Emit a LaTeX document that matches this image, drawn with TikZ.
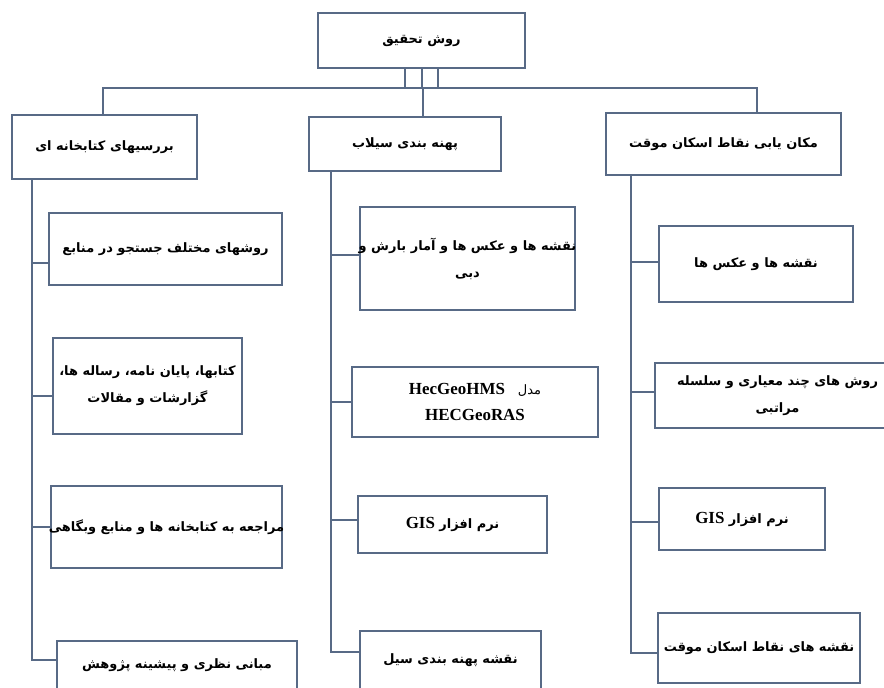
\documentclass[tikz,border=0pt]{standalone}
\usepackage{fontspec}
\TeXXeTstate=1
\newfontfamily\farsi[Script=Arabic]{DejaVu Sans}
\newfontfamily\latf{Liberation Serif}
\newcommand\fa[1]{{\farsi\bfseries\beginR #1\endR}}
\newcommand\lt[1]{\beginL{\latf\bfseries\fontsize{17}{26}\selectfont #1}\endL{}}
\definecolor{edge}{RGB}{88,106,134}
\tikzset{
  box/.style={draw=edge, line width=1.1bp, fill=white, inner sep=0pt, align=center, font=\fontsize{13}{27}\selectfont},
  link/.style={draw=edge, line width=1.1bp}
}
\begin{document}
\begin{tikzpicture}[x=1bp,y=-1bp]
\clip (0,0) rectangle (884,688);
\fill[white] (0,0) rectangle (884,688);
% top level
\node[box, minimum width=207bp, minimum height=55bp] (top) at (421.5,40.5) {\fa{روش تحقیق}};
\node[box, minimum width=185bp, minimum height=64bp] (L) at (104.5,147) {\fa{بررسیهای کتابخانه ای}};
\node[box, minimum width=192bp, minimum height=54bp] (M) at (405,144) {\fa{پهنه بندی سیلاب}};
\node[box, minimum width=235bp, minimum height=62bp] (R) at (723.5,144) {\fa{مکان یابی نقاط اسکان موقت}};
% left children
\node[box, minimum width=233bp, minimum height=72bp] (L1) at (165.5,249) {\fa{روشهای مختلف جستجو در منابع}};
\node[box, minimum width=189bp, minimum height=96bp] (L2) at (147.5,386) {\fa{کتابها، پایان نامه، رساله ها،}\\\fa{گزارشات و مقالات}};
\node[box, minimum width=231bp, minimum height=82bp] (L3) at (166.5,527) {\makebox[220bp]{\fa{مراجعه به کتابخانه ها و منابع وبگاهی}}};
\node[box, minimum width=240bp, minimum height=49bp] (L4) at (177,665.5) {\fa{مبانی نظری و پیشینه پژوهش}};
% middle children
\node[box, minimum width=215bp, minimum height=103bp] (M1) at (467.5,258.5) {\makebox[200bp]{\fa{نقشه ها و عکس ها و آمار بارش و}}\\\fa{دبی}};
\node[box, minimum width=246bp, minimum height=70bp] (M2) at (475,402) {{\farsi\beginR مدل\quad\lt{HecGeoHMS}\endR}\\\lt{HECGeoRAS}};
\node[box, minimum width=189bp, minimum height=57bp] (M3) at (452.5,524.5) {\fa{نرم افزار \lt{GIS}}};
\node[box, minimum width=181bp, minimum height=59bp] (M4) at (450.5,660.5) {\fa{نقشه پهنه بندی سیل}};
% right children
\node[box, minimum width=194bp, minimum height=76bp] (R1) at (756,264) {\fa{نقشه ها و عکس ها}};
\node[box, minimum width=245bp, minimum height=65bp] (R2) at (777.5,395.5) {\fa{روش های چند معیاری  و سلسله}\\\fa{مراتبی}};
\node[box, minimum width=166bp, minimum height=62bp] (R3) at (742,519) {\fa{نرم افزار \lt{GIS}}};
\node[box, minimum width=202bp, minimum height=70bp] (R4) at (759,648) {\fa{نقشه های نقاط اسکان موقت}};
% top connectors
\coordinate (hl) at (103,88);
\coordinate (hr) at (757,88);
\draw[link] (R.north -| hr) -- (hr) -- (hl) -- (L.north -| hl);
\draw[link] (top.south -| 405,0) -- (405,88);
\draw[link] (top.south -| 422,0) -- (422,88);
\draw[link] (top.south -| 438,0) -- (438,88);
\draw[link] (423,88) -- (M.north -| 423,0);
% trunks
\coordinate (Lt) at (32,660);
\coordinate (Mt) at (331,652);
\coordinate (Rt) at (631,653);
\draw[link] (L.south -| Lt) -- (Lt) -- (L4.west |- Lt);
\draw[link] (M.south -| Mt) -- (Mt) -- (M4.west |- Mt);
\draw[link] (R.south -| Rt) -- (Rt) -- (R4.west |- Rt);
% branches
\coordinate (l1) at (32,263);
\coordinate (l2) at (32,396);
\coordinate (l3) at (32,527);
\coordinate (m1) at (331,255);
\coordinate (m2) at (331,402);
\coordinate (m3) at (331,520);
\coordinate (r1) at (631,262);
\coordinate (r2) at (631,392);
\coordinate (r3) at (631,522);
\draw[link] (l1) -- (L1.west |- l1);
\draw[link] (l2) -- (L2.west |- l2);
\draw[link] (l3) -- (L3.west |- l3);
\draw[link] (m1) -- (M1.west |- m1);
\draw[link] (m2) -- (M2.west |- m2);
\draw[link] (m3) -- (M3.west |- m3);
\draw[link] (r1) -- (R1.west |- r1);
\draw[link] (r2) -- (R2.west |- r2);
\draw[link] (r3) -- (R3.west |- r3);
\end{tikzpicture}
\end{document}
